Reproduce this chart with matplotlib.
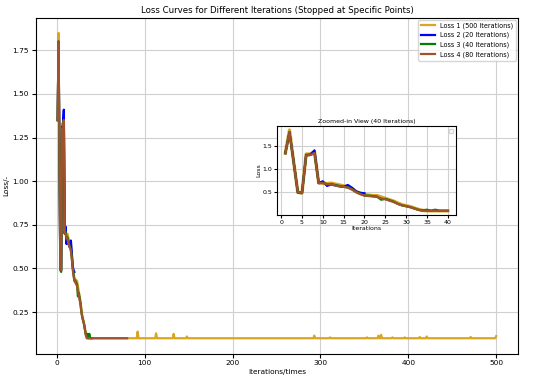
import matplotlib
matplotlib.use("Agg")
import matplotlib.pyplot as plt

# Curvas de perda
head_loss1 = [1.35, 1.85, 1.16, 0.50, 0.49, 1.33, 1.33, 1.38, 0.71, 0.70,
              0.69, 0.70, 0.68, 0.66, 0.64, 0.62, 0.58, 0.52, 0.48, 0.45,
              0.44, 0.43, 0.43, 0.40, 0.37, 0.34, 0.31, 0.27, 0.23, 0.21,
              0.19, 0.16, 0.13, 0.11, 0.10, 0.10, 0.10, 0.10, 0.10, 0.10]
spikes_loss1 = {92: 0.138, 113: 0.128, 133: 0.125, 148: 0.11, 293: 0.115,
                311: 0.105, 353: 0.105, 366: 0.115, 369: 0.12, 382: 0.105,
                396: 0.105, 413: 0.107, 421: 0.11, 471: 0.107, 500: 0.112}
loss1 = head_loss1 + [0.10] * 460
for it, v in spikes_loss1.items():
    loss1[it - 1] = v

loss2 = [1.35, 1.80, 1.16, 0.50, 0.49, 1.31, 1.32, 1.41, 0.70, 0.74,
         0.64, 0.67, 0.65, 0.63, 0.62, 0.66, 0.60, 0.52, 0.49, 0.48]

loss3 = [1.35, 1.80, 1.16, 0.49, 0.48, 1.30, 1.31, 1.35, 0.70, 0.71,
         0.67, 0.68, 0.66, 0.64, 0.62, 0.61, 0.57, 0.51, 0.47, 0.43,
         0.43, 0.42, 0.41, 0.34, 0.36, 0.33, 0.30, 0.25, 0.22, 0.20,
         0.18, 0.15, 0.12, 0.11, 0.125, 0.10, 0.125, 0.10, 0.10, 0.10]

head_loss4 = [1.35, 1.80, 1.16, 0.50, 0.49, 1.30, 1.31, 1.35, 0.70, 0.70,
              0.68, 0.67, 0.65, 0.63, 0.62, 0.60, 0.56, 0.50, 0.46, 0.43,
              0.42, 0.41, 0.40, 0.37, 0.35, 0.32, 0.29, 0.25, 0.22, 0.20,
              0.18, 0.15, 0.12, 0.10]
loss4 = head_loss4 + [0.10] * (80 - len(head_loss4))

series = [
    (loss1, "Loss 1 (500 Iterations)", "goldenrod"),
    (loss2, "Loss 2 (20 Iterations)", "blue"),
    (loss3, "Loss 3 (40 Iterations)", "green"),
    (loss4, "Loss 4 (80 Iterations)", "sienna"),
]

fig = plt.figure(figsize=(5.5, 3.83), dpi=100)
ax = fig.add_axes([0.065, 0.077, 0.877, 0.877])

for vals, lab, cor in series:
    ax.plot(range(1, len(vals) + 1), vals, color=cor, lw=1.6, label=lab)

ax.set_title("Loss Curves for Different Iterations (Stopped at Specific Points)", fontsize=6.2, pad=3)
ax.set_xlabel("Iterations/times", fontsize=5.3, labelpad=2)
ax.set_ylabel("Loss/-", fontsize=5.3, labelpad=2)
ax.tick_params(labelsize=5.3, length=3, pad=2)
ax.grid(True, color="#d0d0d0", lw=0.8)
ax.legend(loc="upper right", fontsize=4.7, handlelength=2.2, borderaxespad=0.3)

# Inset com zoom das primeiras 40 iteracoes
ax_in = fig.add_axes([0.504, 0.439, 0.325, 0.232])
for vals, lab, cor in series:
    v = vals[:40]
    ax_in.plot(range(1, len(v) + 1), v, color=cor, lw=2.4 if cor == "goldenrod" else 1.6)
ax_in.set_title("Zoomed-in View (40 Iterations)", fontsize=4.5, pad=2)
ax_in.set_xlabel("Iterations", fontsize=4.5, labelpad=1)
ax_in.set_ylabel("Loss", fontsize=4.5, labelpad=1)
ax_in.set_xticks(range(0, 41, 5))
ax_in.set_yticks([0.5, 1.0, 1.5])
ax_in.tick_params(labelsize=4.5, length=2, pad=1.5)
ax_in.grid(True, color="#d0d0d0", lw=0.8)
ax_in.legend(handles=[], loc="upper right", fontsize=4)

fig.savefig("out.png", dpi=100)
